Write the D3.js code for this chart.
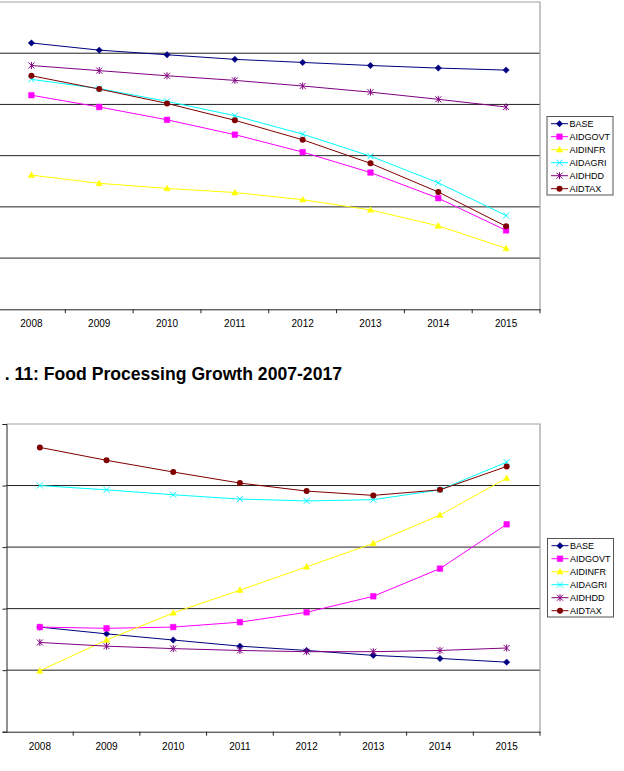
<!DOCTYPE html>
<html lang="en">
<head>
<meta charset="UTF-8">
<title>Food Processing Growth</title>
<style>
    body { margin: 0; padding: 0; background: #fff; }
    svg { display: block; font-family: "Liberation Sans", Arial, sans-serif; }
    .tick text { font-size: 10px; fill: #000; }
    .legend text { font-size: 9px; fill: #000; }
</style>
</head>
<body>
<svg id="chart" width="624" height="771"></svg>
<script src="https://d3js.org/d3.v7.min.js"></script>
<script>
    // category labels
    var years = ["2008", "2009", "2010", "2011", "2012", "2013", "2014", "2015"];
    var seriesNames = ["BASE", "AIDGOVT", "AIDINFR", "AIDAGRI", "AIDHDD", "AIDTAX"];

    // upper chart (axis labels cut off in the source, so values are in gridline units)
    var topBase    = [5.20, 5.06, 4.97, 4.88, 4.82, 4.76, 4.71, 4.67];
    var topAidgovt = [4.18, 3.95, 3.70, 3.41, 3.07, 2.67, 2.17, 1.54];
    var topAidinfr = [2.62, 2.46, 2.36, 2.28, 2.14, 1.94, 1.63, 1.19];
    var topAidagri = [4.49, 4.31, 4.06, 3.78, 3.42, 2.99, 2.47, 1.83];
    var topAidhdd  = [4.76, 4.66, 4.56, 4.47, 4.36, 4.24, 4.10, 3.95];
    var topAidtax  = [4.56, 4.30, 4.02, 3.69, 3.31, 2.85, 2.29, 1.62];

    // lower chart: Food Processing Growth 2007-2017
    var botBase    = [1.70, 1.59, 1.49, 1.39, 1.32, 1.24, 1.19, 1.13];
    var botAidgovt = [1.70, 1.68, 1.70, 1.78, 1.94, 2.20, 2.65, 3.37];
    var botAidinfr = [0.99, 1.49, 1.93, 2.30, 2.68, 3.06, 3.52, 4.12];
    var botAidagri = [4.00, 3.93, 3.85, 3.78, 3.75, 3.77, 3.93, 4.38];
    var botAidhdd  = [1.45, 1.39, 1.35, 1.32, 1.30, 1.30, 1.32, 1.36];
    var botAidtax  = [4.62, 4.41, 4.22, 4.04, 3.91, 3.84, 3.93, 4.31];

    var colors = ["#000080", "#ff00ff", "#ffff00", "#00ffff", "#800080", "#800000"];
    var markers = ["diamond", "square", "triangle", "x", "star", "circle"];

    var svg = d3.select("#chart");

    function markerPath(type) {
        switch (type) {
            case "diamond": return "M0,-3.2L3.2,0L0,3.2L-3.2,0Z";
            case "square": return "M-2.8,-2.8H2.8V2.8H-2.8Z";
            case "triangle": return "M0,-3.3L3.2,2.4H-3.2Z";
            case "x": return "M-3,-3L3,3M-3,3L3,-3";
            case "star": return "M-3,-3L3,3M-3,3L3,-3M0,-3.5V3.5";
            default: return null;
        }
    }

    function addMarker(g, type, color, x, y) {
        if (type === "circle") {
            g.append("circle").attr("cx", x).attr("cy", y).attr("r", 3).attr("fill", color);
        } else {
            var open = (type === "x" || type === "star");
            g.append("path")
                .attr("transform", "translate(" + x + "," + y + ")")
                .attr("d", markerPath(type))
                .attr("fill", open ? "none" : color)
                .attr("stroke", color)
                .attr("stroke-width", open ? 1 : 0.5);
        }
    }

    function drawChart(cfg) {
        var g = svg.append("g");

        var x = d3.scaleBand().domain(years).range([cfg.left, cfg.right]);
        var y = d3.scaleLinear().domain([0, cfg.max]).range([cfg.bottom, cfg.top]);

        // gridlines
        g.selectAll(".grid")
            .data(d3.range(1, cfg.max))
            .enter()
            .append("line")
            .attr("x1", cfg.left).attr("x2", cfg.right)
            .attr("y1", function (d) { return y(d); })
            .attr("y2", function (d) { return y(d); })
            .attr("stroke", "#222")
            .attr("stroke-width", 1);

        // plot border top / right
        g.append("path")
            .attr("d", "M" + cfg.left + "," + y(cfg.max) + "H" + cfg.right + "V" + cfg.bottom)
            .attr("fill", "none")
            .attr("stroke", "#a0a0a0")
            .attr("stroke-width", 1.2);

        // left axis with tick marks only
        g.append("g")
            .attr("transform", "translate(" + cfg.left + ",0)")
            .call(d3.axisLeft(y).ticks(cfg.max).tickSize(4).tickFormat(""))
            .call(function (a) {
                a.select(".domain").attr("stroke", "#222");
                a.selectAll(".tick line").attr("stroke", "#222");
            });

        // bottom axis: labels at band centres, tick marks between categories
        var xa = g.append("g")
            .attr("transform", "translate(0," + cfg.bottom + ")")
            .call(d3.axisBottom(x).tickSize(0).tickPadding(11))
            .call(function (a) {
                a.select(".domain").attr("stroke", "#222");
                a.selectAll(".tick text").attr("font-family", "Liberation Sans, Arial, sans-serif").attr("font-size", 10).attr("fill", "#000");
            });
        xa.selectAll(".sep")
            .data(years.slice(1).map(function (d) { return x(d); }).concat([x.range()[1]]))
            .enter()
            .append("line")
            .attr("x1", function (d) { return d; })
            .attr("x2", function (d) { return d; })
            .attr("y1", 0).attr("y2", 4)
            .attr("stroke", "#222");

        // series
        var line = d3.line()
            .x(function (d, i) { return x(years[i]) + x.bandwidth() / 2; })
            .y(function (d) { return y(d); });

        cfg.values.forEach(function (vals, s) {
            g.append("path")
                .attr("d", line(vals))
                .attr("fill", "none")
                .attr("stroke", colors[s])
                .attr("stroke-width", 1);
            vals.forEach(function (v, i) {
                addMarker(g, markers[s], colors[s], x(years[i]) + x.bandwidth() / 2, y(v));
            });
        });

        // legend
        var lg = g.append("g").attr("class", "legend")
            .attr("transform", "translate(" + cfg.legendX + "," + cfg.legendY + ")");
        lg.append("rect")
            .attr("x", 0.5).attr("y", 0.5)
            .attr("width", 66).attr("height", 78.5)
            .attr("fill", "#fff")
            .attr("stroke", "#555");
        seriesNames.forEach(function (name, s) {
            var ly = 7.7 + s * 13;
            lg.append("line")
                .attr("x1", 4.5).attr("x2", 21.5)
                .attr("y1", ly).attr("y2", ly)
                .attr("stroke", colors[s]);
            addMarker(lg, markers[s], colors[s], 13, ly);
            lg.append("text")
                .attr("x", 23).attr("y", ly + 3.3)
                .text(name);
        });
    }

    drawChart({
        left: -2.5, right: 540, top: 2, bottom: 309.3, max: 6,
        values: [topBase, topAidgovt, topAidinfr, topAidagri, topAidhdd, topAidtax],
        legendX: 546.5, legendY: 116
    });

    // the source page crops the caption on the left; only this part is visible
    svg.append("text")
        .attr("x", 342)
        .attr("y", 379.5)
        .attr("text-anchor", "end")
        .attr("font-size", "17.6px")
        .attr("font-weight", "bold")
        .attr("fill", "#000")
        .text(". 11: Food Processing Growth 2007-2017");

    drawChart({
        left: 6.5, right: 540, top: 424, bottom: 731.7, max: 5,
        values: [botBase, botAidgovt, botAidinfr, botAidagri, botAidhdd, botAidtax],
        legendX: 547, legendY: 538
    });
</script>
</body>
</html>
